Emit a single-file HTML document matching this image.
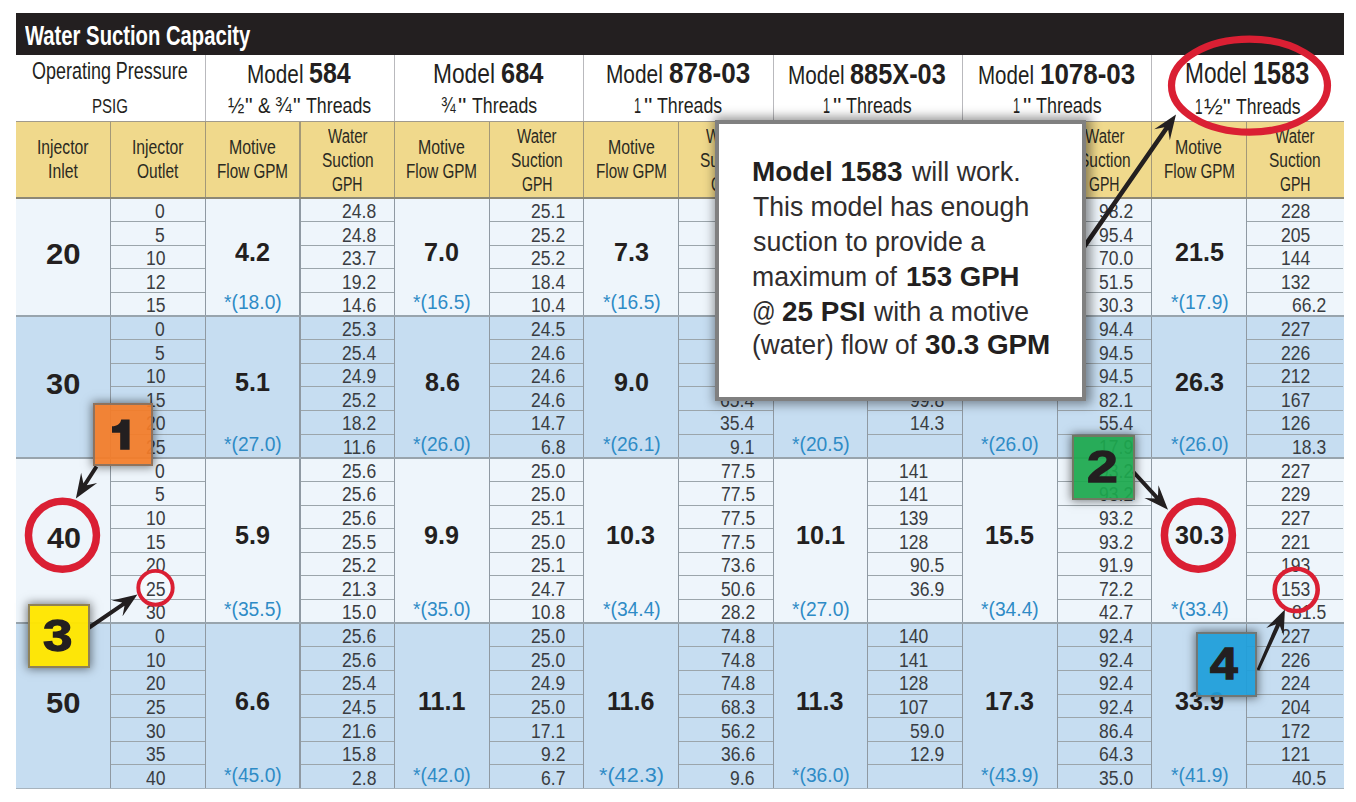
<!DOCTYPE html>
<html><head><meta charset="utf-8"><style>
html,body{margin:0;padding:0;background:#fff;}
body{width:1356px;height:802px;position:relative;overflow:hidden;font-family:"Liberation Sans",sans-serif;}
.t{position:absolute;white-space:nowrap;transform-origin:0 0;}
.r{position:absolute;}
.bx{position:absolute;box-sizing:border-box;border:2px solid rgba(125,112,100,0.85);box-shadow:0 0 9px 1px rgba(0,0,0,0.5);}
.pop{position:absolute;border:4.6px solid #808080;background:#fff;box-shadow:2px 0 10px 3px rgba(0,0,0,0.42);}
</style></head><body>
<div class="r" style="left:16.00px;top:13.00px;width:1328.00px;height:42.00px;background:#231f20;"></div>
<div class="r" style="left:16.00px;top:121.50px;width:1327.50px;height:76.50px;background:#f0d98c;"></div>
<div class="r" style="left:16.00px;top:198.00px;width:1327.50px;height:118.10px;background:#eef5fb;"></div>
<div class="r" style="left:16.00px;top:316.10px;width:1327.50px;height:141.72px;background:#c6ddf1;"></div>
<div class="r" style="left:16.00px;top:457.82px;width:1327.50px;height:165.34px;background:#eef5fb;"></div>
<div class="r" style="left:16.00px;top:623.16px;width:1327.50px;height:165.34px;background:#c6ddf1;"></div>
<div class="r" style="left:204.70px;top:55.00px;width:1.20px;height:66.50px;background:#b9b9bd;"></div>
<div class="r" style="left:394.00px;top:55.00px;width:1.20px;height:66.50px;background:#b9b9bd;"></div>
<div class="r" style="left:583.30px;top:55.00px;width:1.20px;height:66.50px;background:#b9b9bd;"></div>
<div class="r" style="left:772.60px;top:55.00px;width:1.20px;height:66.50px;background:#b9b9bd;"></div>
<div class="r" style="left:961.90px;top:55.00px;width:1.20px;height:66.50px;background:#b9b9bd;"></div>
<div class="r" style="left:1151.20px;top:55.00px;width:1.20px;height:66.50px;background:#b9b9bd;"></div>
<div class="r" style="left:110.05px;top:121.50px;width:1.20px;height:76.50px;background:#a39878;"></div>
<div class="r" style="left:204.70px;top:121.50px;width:1.20px;height:76.50px;background:#a39878;"></div>
<div class="r" style="left:299.35px;top:121.50px;width:1.20px;height:76.50px;background:#a39878;"></div>
<div class="r" style="left:394.00px;top:121.50px;width:1.20px;height:76.50px;background:#a39878;"></div>
<div class="r" style="left:488.65px;top:121.50px;width:1.20px;height:76.50px;background:#a39878;"></div>
<div class="r" style="left:583.30px;top:121.50px;width:1.20px;height:76.50px;background:#a39878;"></div>
<div class="r" style="left:677.95px;top:121.50px;width:1.20px;height:76.50px;background:#a39878;"></div>
<div class="r" style="left:772.60px;top:121.50px;width:1.20px;height:76.50px;background:#a39878;"></div>
<div class="r" style="left:867.25px;top:121.50px;width:1.20px;height:76.50px;background:#a39878;"></div>
<div class="r" style="left:961.90px;top:121.50px;width:1.20px;height:76.50px;background:#a39878;"></div>
<div class="r" style="left:1056.55px;top:121.50px;width:1.20px;height:76.50px;background:#a39878;"></div>
<div class="r" style="left:1151.20px;top:121.50px;width:1.20px;height:76.50px;background:#a39878;"></div>
<div class="r" style="left:1245.85px;top:121.50px;width:1.20px;height:76.50px;background:#a39878;"></div>
<div class="r" style="left:110.05px;top:198.00px;width:1.20px;height:590.50px;background:#8f99a2;"></div>
<div class="r" style="left:204.70px;top:198.00px;width:1.20px;height:590.50px;background:#8f99a2;"></div>
<div class="r" style="left:299.35px;top:198.00px;width:1.20px;height:590.50px;background:#8f99a2;"></div>
<div class="r" style="left:394.00px;top:198.00px;width:1.20px;height:590.50px;background:#8f99a2;"></div>
<div class="r" style="left:488.65px;top:198.00px;width:1.20px;height:590.50px;background:#8f99a2;"></div>
<div class="r" style="left:583.30px;top:198.00px;width:1.20px;height:590.50px;background:#8f99a2;"></div>
<div class="r" style="left:677.95px;top:198.00px;width:1.20px;height:590.50px;background:#8f99a2;"></div>
<div class="r" style="left:772.60px;top:198.00px;width:1.20px;height:590.50px;background:#8f99a2;"></div>
<div class="r" style="left:867.25px;top:198.00px;width:1.20px;height:590.50px;background:#8f99a2;"></div>
<div class="r" style="left:961.90px;top:198.00px;width:1.20px;height:590.50px;background:#8f99a2;"></div>
<div class="r" style="left:1056.55px;top:198.00px;width:1.20px;height:590.50px;background:#8f99a2;"></div>
<div class="r" style="left:1151.20px;top:198.00px;width:1.20px;height:590.50px;background:#8f99a2;"></div>
<div class="r" style="left:1245.85px;top:198.00px;width:1.20px;height:590.50px;background:#8f99a2;"></div>
<div class="r" style="left:16.00px;top:120.80px;width:1327.50px;height:1.40px;background:#a09a8c;"></div>
<div class="r" style="left:16.00px;top:197.30px;width:1327.50px;height:1.40px;background:#8d8875;"></div>
<div class="r" style="left:16.00px;top:315.40px;width:1327.50px;height:1.40px;background:#98a4ad;"></div>
<div class="r" style="left:16.00px;top:457.12px;width:1327.50px;height:1.40px;background:#98a4ad;"></div>
<div class="r" style="left:16.00px;top:622.46px;width:1327.50px;height:1.40px;background:#98a4ad;"></div>
<div class="r" style="left:16.00px;top:787.80px;width:1327.50px;height:1.40px;background:#a7b3bd;"></div>
<div class="r" style="left:111.25px;top:221.12px;width:93.45px;height:1.00px;background:#9ba5ab;"></div>
<div class="r" style="left:300.55px;top:221.12px;width:93.45px;height:1.00px;background:#9ba5ab;"></div>
<div class="r" style="left:489.85px;top:221.12px;width:93.45px;height:1.00px;background:#9ba5ab;"></div>
<div class="r" style="left:679.15px;top:221.12px;width:93.45px;height:1.00px;background:#9ba5ab;"></div>
<div class="r" style="left:868.45px;top:221.12px;width:93.45px;height:1.00px;background:#9ba5ab;"></div>
<div class="r" style="left:1057.75px;top:221.12px;width:93.45px;height:1.00px;background:#9ba5ab;"></div>
<div class="r" style="left:1247.05px;top:221.12px;width:95.85px;height:1.00px;background:#9ba5ab;"></div>
<div class="r" style="left:111.25px;top:244.74px;width:93.45px;height:1.00px;background:#9ba5ab;"></div>
<div class="r" style="left:300.55px;top:244.74px;width:93.45px;height:1.00px;background:#9ba5ab;"></div>
<div class="r" style="left:489.85px;top:244.74px;width:93.45px;height:1.00px;background:#9ba5ab;"></div>
<div class="r" style="left:679.15px;top:244.74px;width:93.45px;height:1.00px;background:#9ba5ab;"></div>
<div class="r" style="left:868.45px;top:244.74px;width:93.45px;height:1.00px;background:#9ba5ab;"></div>
<div class="r" style="left:1057.75px;top:244.74px;width:93.45px;height:1.00px;background:#9ba5ab;"></div>
<div class="r" style="left:1247.05px;top:244.74px;width:95.85px;height:1.00px;background:#9ba5ab;"></div>
<div class="r" style="left:111.25px;top:268.36px;width:93.45px;height:1.00px;background:#9ba5ab;"></div>
<div class="r" style="left:300.55px;top:268.36px;width:93.45px;height:1.00px;background:#9ba5ab;"></div>
<div class="r" style="left:489.85px;top:268.36px;width:93.45px;height:1.00px;background:#9ba5ab;"></div>
<div class="r" style="left:679.15px;top:268.36px;width:93.45px;height:1.00px;background:#9ba5ab;"></div>
<div class="r" style="left:868.45px;top:268.36px;width:93.45px;height:1.00px;background:#9ba5ab;"></div>
<div class="r" style="left:1057.75px;top:268.36px;width:93.45px;height:1.00px;background:#9ba5ab;"></div>
<div class="r" style="left:1247.05px;top:268.36px;width:95.85px;height:1.00px;background:#9ba5ab;"></div>
<div class="r" style="left:111.25px;top:291.98px;width:93.45px;height:1.00px;background:#9ba5ab;"></div>
<div class="r" style="left:300.55px;top:291.98px;width:93.45px;height:1.00px;background:#9ba5ab;"></div>
<div class="r" style="left:489.85px;top:291.98px;width:93.45px;height:1.00px;background:#9ba5ab;"></div>
<div class="r" style="left:679.15px;top:291.98px;width:93.45px;height:1.00px;background:#9ba5ab;"></div>
<div class="r" style="left:868.45px;top:291.98px;width:93.45px;height:1.00px;background:#9ba5ab;"></div>
<div class="r" style="left:1057.75px;top:291.98px;width:93.45px;height:1.00px;background:#9ba5ab;"></div>
<div class="r" style="left:1247.05px;top:291.98px;width:95.85px;height:1.00px;background:#9ba5ab;"></div>
<div class="r" style="left:111.25px;top:339.22px;width:93.45px;height:1.00px;background:#9ba5ab;"></div>
<div class="r" style="left:300.55px;top:339.22px;width:93.45px;height:1.00px;background:#9ba5ab;"></div>
<div class="r" style="left:489.85px;top:339.22px;width:93.45px;height:1.00px;background:#9ba5ab;"></div>
<div class="r" style="left:679.15px;top:339.22px;width:93.45px;height:1.00px;background:#9ba5ab;"></div>
<div class="r" style="left:868.45px;top:339.22px;width:93.45px;height:1.00px;background:#9ba5ab;"></div>
<div class="r" style="left:1057.75px;top:339.22px;width:93.45px;height:1.00px;background:#9ba5ab;"></div>
<div class="r" style="left:1247.05px;top:339.22px;width:95.85px;height:1.00px;background:#9ba5ab;"></div>
<div class="r" style="left:111.25px;top:362.84px;width:93.45px;height:1.00px;background:#9ba5ab;"></div>
<div class="r" style="left:300.55px;top:362.84px;width:93.45px;height:1.00px;background:#9ba5ab;"></div>
<div class="r" style="left:489.85px;top:362.84px;width:93.45px;height:1.00px;background:#9ba5ab;"></div>
<div class="r" style="left:679.15px;top:362.84px;width:93.45px;height:1.00px;background:#9ba5ab;"></div>
<div class="r" style="left:868.45px;top:362.84px;width:93.45px;height:1.00px;background:#9ba5ab;"></div>
<div class="r" style="left:1057.75px;top:362.84px;width:93.45px;height:1.00px;background:#9ba5ab;"></div>
<div class="r" style="left:1247.05px;top:362.84px;width:95.85px;height:1.00px;background:#9ba5ab;"></div>
<div class="r" style="left:111.25px;top:386.46px;width:93.45px;height:1.00px;background:#9ba5ab;"></div>
<div class="r" style="left:300.55px;top:386.46px;width:93.45px;height:1.00px;background:#9ba5ab;"></div>
<div class="r" style="left:489.85px;top:386.46px;width:93.45px;height:1.00px;background:#9ba5ab;"></div>
<div class="r" style="left:679.15px;top:386.46px;width:93.45px;height:1.00px;background:#9ba5ab;"></div>
<div class="r" style="left:868.45px;top:386.46px;width:93.45px;height:1.00px;background:#9ba5ab;"></div>
<div class="r" style="left:1057.75px;top:386.46px;width:93.45px;height:1.00px;background:#9ba5ab;"></div>
<div class="r" style="left:1247.05px;top:386.46px;width:95.85px;height:1.00px;background:#9ba5ab;"></div>
<div class="r" style="left:111.25px;top:410.08px;width:93.45px;height:1.00px;background:#9ba5ab;"></div>
<div class="r" style="left:300.55px;top:410.08px;width:93.45px;height:1.00px;background:#9ba5ab;"></div>
<div class="r" style="left:489.85px;top:410.08px;width:93.45px;height:1.00px;background:#9ba5ab;"></div>
<div class="r" style="left:679.15px;top:410.08px;width:93.45px;height:1.00px;background:#9ba5ab;"></div>
<div class="r" style="left:868.45px;top:410.08px;width:93.45px;height:1.00px;background:#9ba5ab;"></div>
<div class="r" style="left:1057.75px;top:410.08px;width:93.45px;height:1.00px;background:#9ba5ab;"></div>
<div class="r" style="left:1247.05px;top:410.08px;width:95.85px;height:1.00px;background:#9ba5ab;"></div>
<div class="r" style="left:111.25px;top:433.70px;width:93.45px;height:1.00px;background:#9ba5ab;"></div>
<div class="r" style="left:300.55px;top:433.70px;width:93.45px;height:1.00px;background:#9ba5ab;"></div>
<div class="r" style="left:489.85px;top:433.70px;width:93.45px;height:1.00px;background:#9ba5ab;"></div>
<div class="r" style="left:679.15px;top:433.70px;width:93.45px;height:1.00px;background:#9ba5ab;"></div>
<div class="r" style="left:868.45px;top:433.70px;width:93.45px;height:1.00px;background:#9ba5ab;"></div>
<div class="r" style="left:1057.75px;top:433.70px;width:93.45px;height:1.00px;background:#9ba5ab;"></div>
<div class="r" style="left:1247.05px;top:433.70px;width:95.85px;height:1.00px;background:#9ba5ab;"></div>
<div class="r" style="left:111.25px;top:480.94px;width:93.45px;height:1.00px;background:#9ba5ab;"></div>
<div class="r" style="left:300.55px;top:480.94px;width:93.45px;height:1.00px;background:#9ba5ab;"></div>
<div class="r" style="left:489.85px;top:480.94px;width:93.45px;height:1.00px;background:#9ba5ab;"></div>
<div class="r" style="left:679.15px;top:480.94px;width:93.45px;height:1.00px;background:#9ba5ab;"></div>
<div class="r" style="left:868.45px;top:480.94px;width:93.45px;height:1.00px;background:#9ba5ab;"></div>
<div class="r" style="left:1057.75px;top:480.94px;width:93.45px;height:1.00px;background:#9ba5ab;"></div>
<div class="r" style="left:1247.05px;top:480.94px;width:95.85px;height:1.00px;background:#9ba5ab;"></div>
<div class="r" style="left:111.25px;top:504.56px;width:93.45px;height:1.00px;background:#9ba5ab;"></div>
<div class="r" style="left:300.55px;top:504.56px;width:93.45px;height:1.00px;background:#9ba5ab;"></div>
<div class="r" style="left:489.85px;top:504.56px;width:93.45px;height:1.00px;background:#9ba5ab;"></div>
<div class="r" style="left:679.15px;top:504.56px;width:93.45px;height:1.00px;background:#9ba5ab;"></div>
<div class="r" style="left:868.45px;top:504.56px;width:93.45px;height:1.00px;background:#9ba5ab;"></div>
<div class="r" style="left:1057.75px;top:504.56px;width:93.45px;height:1.00px;background:#9ba5ab;"></div>
<div class="r" style="left:1247.05px;top:504.56px;width:95.85px;height:1.00px;background:#9ba5ab;"></div>
<div class="r" style="left:111.25px;top:528.18px;width:93.45px;height:1.00px;background:#9ba5ab;"></div>
<div class="r" style="left:300.55px;top:528.18px;width:93.45px;height:1.00px;background:#9ba5ab;"></div>
<div class="r" style="left:489.85px;top:528.18px;width:93.45px;height:1.00px;background:#9ba5ab;"></div>
<div class="r" style="left:679.15px;top:528.18px;width:93.45px;height:1.00px;background:#9ba5ab;"></div>
<div class="r" style="left:868.45px;top:528.18px;width:93.45px;height:1.00px;background:#9ba5ab;"></div>
<div class="r" style="left:1057.75px;top:528.18px;width:93.45px;height:1.00px;background:#9ba5ab;"></div>
<div class="r" style="left:1247.05px;top:528.18px;width:95.85px;height:1.00px;background:#9ba5ab;"></div>
<div class="r" style="left:111.25px;top:551.80px;width:93.45px;height:1.00px;background:#9ba5ab;"></div>
<div class="r" style="left:300.55px;top:551.80px;width:93.45px;height:1.00px;background:#9ba5ab;"></div>
<div class="r" style="left:489.85px;top:551.80px;width:93.45px;height:1.00px;background:#9ba5ab;"></div>
<div class="r" style="left:679.15px;top:551.80px;width:93.45px;height:1.00px;background:#9ba5ab;"></div>
<div class="r" style="left:868.45px;top:551.80px;width:93.45px;height:1.00px;background:#9ba5ab;"></div>
<div class="r" style="left:1057.75px;top:551.80px;width:93.45px;height:1.00px;background:#9ba5ab;"></div>
<div class="r" style="left:1247.05px;top:551.80px;width:95.85px;height:1.00px;background:#9ba5ab;"></div>
<div class="r" style="left:111.25px;top:575.42px;width:93.45px;height:1.00px;background:#9ba5ab;"></div>
<div class="r" style="left:300.55px;top:575.42px;width:93.45px;height:1.00px;background:#9ba5ab;"></div>
<div class="r" style="left:489.85px;top:575.42px;width:93.45px;height:1.00px;background:#9ba5ab;"></div>
<div class="r" style="left:679.15px;top:575.42px;width:93.45px;height:1.00px;background:#9ba5ab;"></div>
<div class="r" style="left:868.45px;top:575.42px;width:93.45px;height:1.00px;background:#9ba5ab;"></div>
<div class="r" style="left:1057.75px;top:575.42px;width:93.45px;height:1.00px;background:#9ba5ab;"></div>
<div class="r" style="left:1247.05px;top:575.42px;width:95.85px;height:1.00px;background:#9ba5ab;"></div>
<div class="r" style="left:111.25px;top:599.04px;width:93.45px;height:1.00px;background:#9ba5ab;"></div>
<div class="r" style="left:300.55px;top:599.04px;width:93.45px;height:1.00px;background:#9ba5ab;"></div>
<div class="r" style="left:489.85px;top:599.04px;width:93.45px;height:1.00px;background:#9ba5ab;"></div>
<div class="r" style="left:679.15px;top:599.04px;width:93.45px;height:1.00px;background:#9ba5ab;"></div>
<div class="r" style="left:868.45px;top:599.04px;width:93.45px;height:1.00px;background:#9ba5ab;"></div>
<div class="r" style="left:1057.75px;top:599.04px;width:93.45px;height:1.00px;background:#9ba5ab;"></div>
<div class="r" style="left:1247.05px;top:599.04px;width:95.85px;height:1.00px;background:#9ba5ab;"></div>
<div class="r" style="left:111.25px;top:646.28px;width:93.45px;height:1.00px;background:#9ba5ab;"></div>
<div class="r" style="left:300.55px;top:646.28px;width:93.45px;height:1.00px;background:#9ba5ab;"></div>
<div class="r" style="left:489.85px;top:646.28px;width:93.45px;height:1.00px;background:#9ba5ab;"></div>
<div class="r" style="left:679.15px;top:646.28px;width:93.45px;height:1.00px;background:#9ba5ab;"></div>
<div class="r" style="left:868.45px;top:646.28px;width:93.45px;height:1.00px;background:#9ba5ab;"></div>
<div class="r" style="left:1057.75px;top:646.28px;width:93.45px;height:1.00px;background:#9ba5ab;"></div>
<div class="r" style="left:1247.05px;top:646.28px;width:95.85px;height:1.00px;background:#9ba5ab;"></div>
<div class="r" style="left:111.25px;top:669.90px;width:93.45px;height:1.00px;background:#9ba5ab;"></div>
<div class="r" style="left:300.55px;top:669.90px;width:93.45px;height:1.00px;background:#9ba5ab;"></div>
<div class="r" style="left:489.85px;top:669.90px;width:93.45px;height:1.00px;background:#9ba5ab;"></div>
<div class="r" style="left:679.15px;top:669.90px;width:93.45px;height:1.00px;background:#9ba5ab;"></div>
<div class="r" style="left:868.45px;top:669.90px;width:93.45px;height:1.00px;background:#9ba5ab;"></div>
<div class="r" style="left:1057.75px;top:669.90px;width:93.45px;height:1.00px;background:#9ba5ab;"></div>
<div class="r" style="left:1247.05px;top:669.90px;width:95.85px;height:1.00px;background:#9ba5ab;"></div>
<div class="r" style="left:111.25px;top:693.52px;width:93.45px;height:1.00px;background:#9ba5ab;"></div>
<div class="r" style="left:300.55px;top:693.52px;width:93.45px;height:1.00px;background:#9ba5ab;"></div>
<div class="r" style="left:489.85px;top:693.52px;width:93.45px;height:1.00px;background:#9ba5ab;"></div>
<div class="r" style="left:679.15px;top:693.52px;width:93.45px;height:1.00px;background:#9ba5ab;"></div>
<div class="r" style="left:868.45px;top:693.52px;width:93.45px;height:1.00px;background:#9ba5ab;"></div>
<div class="r" style="left:1057.75px;top:693.52px;width:93.45px;height:1.00px;background:#9ba5ab;"></div>
<div class="r" style="left:1247.05px;top:693.52px;width:95.85px;height:1.00px;background:#9ba5ab;"></div>
<div class="r" style="left:111.25px;top:717.14px;width:93.45px;height:1.00px;background:#9ba5ab;"></div>
<div class="r" style="left:300.55px;top:717.14px;width:93.45px;height:1.00px;background:#9ba5ab;"></div>
<div class="r" style="left:489.85px;top:717.14px;width:93.45px;height:1.00px;background:#9ba5ab;"></div>
<div class="r" style="left:679.15px;top:717.14px;width:93.45px;height:1.00px;background:#9ba5ab;"></div>
<div class="r" style="left:868.45px;top:717.14px;width:93.45px;height:1.00px;background:#9ba5ab;"></div>
<div class="r" style="left:1057.75px;top:717.14px;width:93.45px;height:1.00px;background:#9ba5ab;"></div>
<div class="r" style="left:1247.05px;top:717.14px;width:95.85px;height:1.00px;background:#9ba5ab;"></div>
<div class="r" style="left:111.25px;top:740.76px;width:93.45px;height:1.00px;background:#9ba5ab;"></div>
<div class="r" style="left:300.55px;top:740.76px;width:93.45px;height:1.00px;background:#9ba5ab;"></div>
<div class="r" style="left:489.85px;top:740.76px;width:93.45px;height:1.00px;background:#9ba5ab;"></div>
<div class="r" style="left:679.15px;top:740.76px;width:93.45px;height:1.00px;background:#9ba5ab;"></div>
<div class="r" style="left:868.45px;top:740.76px;width:93.45px;height:1.00px;background:#9ba5ab;"></div>
<div class="r" style="left:1057.75px;top:740.76px;width:93.45px;height:1.00px;background:#9ba5ab;"></div>
<div class="r" style="left:1247.05px;top:740.76px;width:95.85px;height:1.00px;background:#9ba5ab;"></div>
<div class="r" style="left:111.25px;top:764.38px;width:93.45px;height:1.00px;background:#9ba5ab;"></div>
<div class="r" style="left:300.55px;top:764.38px;width:93.45px;height:1.00px;background:#9ba5ab;"></div>
<div class="r" style="left:489.85px;top:764.38px;width:93.45px;height:1.00px;background:#9ba5ab;"></div>
<div class="r" style="left:679.15px;top:764.38px;width:93.45px;height:1.00px;background:#9ba5ab;"></div>
<div class="r" style="left:868.45px;top:764.38px;width:93.45px;height:1.00px;background:#9ba5ab;"></div>
<div class="r" style="left:1057.75px;top:764.38px;width:93.45px;height:1.00px;background:#9ba5ab;"></div>
<div class="r" style="left:1247.05px;top:764.38px;width:95.85px;height:1.00px;background:#9ba5ab;"></div>
<div class="t" style="left:25.40px;top:22.19px;font-size:27.18px;line-height:27.18px;font-weight:bold;color:#ffffff;transform:scaleX(0.7451);">Water Suction Capacity</div>
<div class="t" style="left:32.49px;top:59.47px;font-size:24.13px;line-height:24.13px;color:#231f20;transform:scaleX(0.7444);">Operating Pressure</div>
<div class="t" style="left:92.40px;top:95.26px;font-size:21.08px;line-height:21.08px;color:#231f20;transform:scaleX(0.7133);">PSIG</div>
<div class="t" style="left:246.64px;top:62.26px;font-size:25.44px;line-height:25.44px;color:#231f20;transform:scaleX(0.8153);">Model</div>
<div class="t" style="left:309.45px;top:58.33px;font-size:30.09px;line-height:30.09px;font-weight:bold;color:#231f20;transform:scaleX(0.8299);">584</div>
<div class="t" style="left:228.31px;top:96.01px;font-size:21.37px;line-height:21.37px;color:#231f20;transform:scaleX(0.9182);">½</div>
<div class="t" style="left:244.84px;top:96.01px;font-size:21.37px;line-height:21.37px;color:#231f20;transform:scaleX(1.0041);">"</div>
<div class="t" style="left:258.35px;top:96.01px;font-size:21.37px;line-height:21.37px;color:#231f20;transform:scaleX(0.8752);">&amp;</div>
<div class="t" style="left:275.30px;top:96.01px;font-size:21.37px;line-height:21.37px;color:#231f20;transform:scaleX(0.9360);">¾</div>
<div class="t" style="left:292.84px;top:96.01px;font-size:21.37px;line-height:21.37px;color:#231f20;transform:scaleX(1.0041);">"</div>
<div class="t" style="left:305.74px;top:96.01px;font-size:21.37px;line-height:21.37px;color:#231f20;transform:scaleX(0.8325);">Threads</div>
<div class="t" style="left:433.28px;top:60.05px;font-size:28.05px;line-height:28.05px;color:#231f20;transform:scaleX(0.8112);">Model</div>
<div class="t" style="left:500.51px;top:58.33px;font-size:30.09px;line-height:30.09px;font-weight:bold;color:#231f20;transform:scaleX(0.8447);">684</div>
<div class="t" style="left:441.19px;top:96.01px;font-size:21.37px;line-height:21.37px;color:#231f20;transform:scaleX(0.8205);">¾</div>
<div class="t" style="left:457.95px;top:96.01px;font-size:21.37px;line-height:21.37px;color:#231f20;transform:scaleX(1.1062);">"</div>
<div class="t" style="left:471.54px;top:96.01px;font-size:21.37px;line-height:21.37px;color:#231f20;transform:scaleX(0.8325);">Threads</div>
<div class="t" style="left:606.03px;top:62.26px;font-size:25.44px;line-height:25.44px;color:#231f20;transform:scaleX(0.8199);">Model</div>
<div class="t" style="left:668.62px;top:58.33px;font-size:30.09px;line-height:30.09px;font-weight:bold;color:#231f20;transform:scaleX(0.8663);">878-03</div>
<div class="t" style="left:634.25px;top:96.01px;font-size:21.37px;line-height:21.37px;color:#231f20;transform:scaleX(0.5917);">1</div>
<div class="t" style="left:644.45px;top:96.01px;font-size:21.37px;line-height:21.37px;color:#231f20;transform:scaleX(1.1062);">"</div>
<div class="t" style="left:657.44px;top:96.01px;font-size:21.37px;line-height:21.37px;color:#231f20;transform:scaleX(0.8325);">Threads</div>
<div class="t" style="left:788.14px;top:62.51px;font-size:25.15px;line-height:25.15px;color:#231f20;transform:scaleX(0.8263);">Model</div>
<div class="t" style="left:850.04px;top:58.57px;font-size:29.80px;line-height:29.80px;font-weight:bold;color:#231f20;transform:scaleX(0.8501);">885X-03</div>
<div class="t" style="left:823.25px;top:96.01px;font-size:21.37px;line-height:21.37px;color:#231f20;transform:scaleX(0.5917);">1</div>
<div class="t" style="left:833.45px;top:96.01px;font-size:21.37px;line-height:21.37px;color:#231f20;transform:scaleX(1.1062);">"</div>
<div class="t" style="left:846.44px;top:96.01px;font-size:21.37px;line-height:21.37px;color:#231f20;transform:scaleX(0.8389);">Threads</div>
<div class="t" style="left:978.16px;top:62.51px;font-size:25.15px;line-height:25.15px;color:#231f20;transform:scaleX(0.8170);">Model</div>
<div class="t" style="left:1039.94px;top:58.57px;font-size:29.80px;line-height:29.80px;font-weight:bold;color:#231f20;transform:scaleX(0.8702);">1078-03</div>
<div class="t" style="left:1012.65px;top:96.01px;font-size:21.37px;line-height:21.37px;color:#231f20;transform:scaleX(0.5917);">1</div>
<div class="t" style="left:1022.85px;top:96.01px;font-size:21.37px;line-height:21.37px;color:#231f20;transform:scaleX(1.1062);">"</div>
<div class="t" style="left:1035.84px;top:96.01px;font-size:21.37px;line-height:21.37px;color:#231f20;transform:scaleX(0.8389);">Threads</div>
<div class="t" style="left:1184.69px;top:59.43px;font-size:28.78px;line-height:28.78px;color:#231f20;transform:scaleX(0.7880);">Model</div>
<div class="t" style="left:1252.88px;top:57.96px;font-size:30.52px;line-height:30.52px;font-weight:bold;color:#231f20;transform:scaleX(0.8290);">1583</div>
<div class="t" style="left:1195.48px;top:95.64px;font-size:21.80px;line-height:21.80px;color:#231f20;transform:scaleX(0.6221);">1</div>
<div class="t" style="left:1203.64px;top:95.64px;font-size:21.80px;line-height:21.80px;color:#231f20;transform:scaleX(1.0342);">½</div>
<div class="t" style="left:1222.84px;top:95.64px;font-size:21.80px;line-height:21.80px;color:#231f20;transform:scaleX(0.9840);">"</div>
<div class="t" style="left:1235.75px;top:95.64px;font-size:21.80px;line-height:21.80px;color:#231f20;transform:scaleX(0.8082);">Threads</div>
<div class="t" style="left:36.96px;top:137.69px;font-size:19.62px;line-height:19.62px;color:#2b2a22;transform:scaleX(0.8022);">Injector</div>
<div class="t" style="left:47.75px;top:161.89px;font-size:19.62px;line-height:19.62px;color:#2b2a22;transform:scaleX(0.8057);">Inlet</div>
<div class="t" style="left:131.61px;top:137.69px;font-size:19.62px;line-height:19.62px;color:#2b2a22;transform:scaleX(0.8022);">Injector</div>
<div class="t" style="left:136.98px;top:161.89px;font-size:19.62px;line-height:19.62px;color:#2b2a22;transform:scaleX(0.7912);">Outlet</div>
<div class="t" style="left:228.90px;top:137.96px;font-size:19.77px;line-height:19.77px;color:#2b2a22;transform:scaleX(0.8055);">Motive</div>
<div class="t" style="left:217.11px;top:161.76px;font-size:19.77px;line-height:19.77px;color:#2b2a22;transform:scaleX(0.7703);">Flow GPM</div>
<div class="t" style="left:327.60px;top:127.13px;font-size:19.33px;line-height:19.33px;color:#2b2a22;transform:scaleX(0.7784);">Water</div>
<div class="t" style="left:321.58px;top:150.93px;font-size:19.33px;line-height:19.33px;color:#2b2a22;transform:scaleX(0.8020);">Suction</div>
<div class="t" style="left:332.22px;top:175.23px;font-size:19.33px;line-height:19.33px;color:#2b2a22;transform:scaleX(0.7295);">GPH</div>
<div class="t" style="left:418.20px;top:137.96px;font-size:19.77px;line-height:19.77px;color:#2b2a22;transform:scaleX(0.8055);">Motive</div>
<div class="t" style="left:406.41px;top:161.76px;font-size:19.77px;line-height:19.77px;color:#2b2a22;transform:scaleX(0.7703);">Flow GPM</div>
<div class="t" style="left:516.90px;top:127.13px;font-size:19.33px;line-height:19.33px;color:#2b2a22;transform:scaleX(0.7784);">Water</div>
<div class="t" style="left:510.88px;top:150.93px;font-size:19.33px;line-height:19.33px;color:#2b2a22;transform:scaleX(0.8020);">Suction</div>
<div class="t" style="left:521.52px;top:175.23px;font-size:19.33px;line-height:19.33px;color:#2b2a22;transform:scaleX(0.7295);">GPH</div>
<div class="t" style="left:607.50px;top:137.96px;font-size:19.77px;line-height:19.77px;color:#2b2a22;transform:scaleX(0.8055);">Motive</div>
<div class="t" style="left:595.71px;top:161.76px;font-size:19.77px;line-height:19.77px;color:#2b2a22;transform:scaleX(0.7703);">Flow GPM</div>
<div class="t" style="left:706.20px;top:127.13px;font-size:19.33px;line-height:19.33px;color:#2b2a22;transform:scaleX(0.7784);">Water</div>
<div class="t" style="left:700.18px;top:150.93px;font-size:19.33px;line-height:19.33px;color:#2b2a22;transform:scaleX(0.8020);">Suction</div>
<div class="t" style="left:710.82px;top:175.23px;font-size:19.33px;line-height:19.33px;color:#2b2a22;transform:scaleX(0.7295);">GPH</div>
<div class="t" style="left:796.80px;top:137.96px;font-size:19.77px;line-height:19.77px;color:#2b2a22;transform:scaleX(0.8055);">Motive</div>
<div class="t" style="left:785.01px;top:161.76px;font-size:19.77px;line-height:19.77px;color:#2b2a22;transform:scaleX(0.7703);">Flow GPM</div>
<div class="t" style="left:895.50px;top:127.13px;font-size:19.33px;line-height:19.33px;color:#2b2a22;transform:scaleX(0.7784);">Water</div>
<div class="t" style="left:889.48px;top:150.93px;font-size:19.33px;line-height:19.33px;color:#2b2a22;transform:scaleX(0.8020);">Suction</div>
<div class="t" style="left:900.12px;top:175.23px;font-size:19.33px;line-height:19.33px;color:#2b2a22;transform:scaleX(0.7295);">GPH</div>
<div class="t" style="left:986.10px;top:137.96px;font-size:19.77px;line-height:19.77px;color:#2b2a22;transform:scaleX(0.8055);">Motive</div>
<div class="t" style="left:974.31px;top:161.76px;font-size:19.77px;line-height:19.77px;color:#2b2a22;transform:scaleX(0.7703);">Flow GPM</div>
<div class="t" style="left:1084.80px;top:127.13px;font-size:19.33px;line-height:19.33px;color:#2b2a22;transform:scaleX(0.7784);">Water</div>
<div class="t" style="left:1078.78px;top:150.93px;font-size:19.33px;line-height:19.33px;color:#2b2a22;transform:scaleX(0.8020);">Suction</div>
<div class="t" style="left:1089.42px;top:175.23px;font-size:19.33px;line-height:19.33px;color:#2b2a22;transform:scaleX(0.7295);">GPH</div>
<div class="t" style="left:1175.40px;top:137.96px;font-size:19.77px;line-height:19.77px;color:#2b2a22;transform:scaleX(0.8055);">Motive</div>
<div class="t" style="left:1163.61px;top:161.76px;font-size:19.77px;line-height:19.77px;color:#2b2a22;transform:scaleX(0.7703);">Flow GPM</div>
<div class="t" style="left:1275.30px;top:127.13px;font-size:19.33px;line-height:19.33px;color:#2b2a22;transform:scaleX(0.7784);">Water</div>
<div class="t" style="left:1269.28px;top:150.93px;font-size:19.33px;line-height:19.33px;color:#2b2a22;transform:scaleX(0.8020);">Suction</div>
<div class="t" style="left:1279.92px;top:175.23px;font-size:19.33px;line-height:19.33px;color:#2b2a22;transform:scaleX(0.7295);">GPH</div>
<div class="t" style="left:46.14px;top:239.12px;font-size:29.80px;line-height:29.80px;font-weight:bold;color:#231f20;transform:scaleX(1.0440);">20</div>
<div class="t" style="left:155.38px;top:200.88px;font-size:20.00px;line-height:20.00px;color:#3a3d42;transform:scaleX(0.8770);">0</div>
<div class="t" style="left:155.47px;top:224.50px;font-size:20.00px;line-height:20.00px;color:#3a3d42;transform:scaleX(0.8770);">5</div>
<div class="t" style="left:145.64px;top:248.12px;font-size:20.00px;line-height:20.00px;color:#3a3d42;transform:scaleX(0.8770);">10</div>
<div class="t" style="left:145.91px;top:271.74px;font-size:20.00px;line-height:20.00px;color:#3a3d42;transform:scaleX(0.8770);">12</div>
<div class="t" style="left:145.73px;top:295.36px;font-size:20.00px;line-height:20.00px;color:#3a3d42;transform:scaleX(0.8770);">15</div>
<div class="t" style="left:235.46px;top:239.77px;font-size:24.90px;line-height:24.90px;font-weight:bold;color:#231f20;transform:scaleX(1.0100);">4.2</div>
<div class="t" style="left:224.19px;top:293.11px;font-size:19.70px;line-height:19.70px;color:#2e8bc6;transform:scaleX(0.9770);">*(18.0)</div>
<div class="t" style="left:341.99px;top:200.88px;font-size:20.00px;line-height:20.00px;color:#3a3d42;transform:scaleX(0.8770);">24.8</div>
<div class="t" style="left:341.99px;top:224.50px;font-size:20.00px;line-height:20.00px;color:#3a3d42;transform:scaleX(0.8770);">24.8</div>
<div class="t" style="left:342.16px;top:248.12px;font-size:20.00px;line-height:20.00px;color:#3a3d42;transform:scaleX(0.8770);">23.7</div>
<div class="t" style="left:342.16px;top:271.74px;font-size:20.00px;line-height:20.00px;color:#3a3d42;transform:scaleX(0.8770);">19.2</div>
<div class="t" style="left:341.99px;top:295.36px;font-size:20.00px;line-height:20.00px;color:#3a3d42;transform:scaleX(0.8770);">14.6</div>
<div class="t" style="left:424.45px;top:239.77px;font-size:24.90px;line-height:24.90px;font-weight:bold;color:#231f20;transform:scaleX(1.0100);">7.0</div>
<div class="t" style="left:413.49px;top:293.11px;font-size:19.70px;line-height:19.70px;color:#2e8bc6;transform:scaleX(0.9770);">*(16.5)</div>
<div class="t" style="left:531.37px;top:200.88px;font-size:20.00px;line-height:20.00px;color:#3a3d42;transform:scaleX(0.8770);">25.1</div>
<div class="t" style="left:531.46px;top:224.50px;font-size:20.00px;line-height:20.00px;color:#3a3d42;transform:scaleX(0.8770);">25.2</div>
<div class="t" style="left:531.46px;top:248.12px;font-size:20.00px;line-height:20.00px;color:#3a3d42;transform:scaleX(0.8770);">25.2</div>
<div class="t" style="left:531.11px;top:271.74px;font-size:20.00px;line-height:20.00px;color:#3a3d42;transform:scaleX(0.8770);">18.4</div>
<div class="t" style="left:531.11px;top:295.36px;font-size:20.00px;line-height:20.00px;color:#3a3d42;transform:scaleX(0.8770);">10.4</div>
<div class="t" style="left:613.68px;top:239.77px;font-size:24.90px;line-height:24.90px;font-weight:bold;color:#231f20;transform:scaleX(1.0100);">7.3</div>
<div class="t" style="left:602.79px;top:293.11px;font-size:19.70px;line-height:19.70px;color:#2e8bc6;transform:scaleX(0.9770);">*(16.5)</div>
<div class="t" style="left:720.50px;top:200.88px;font-size:20.00px;line-height:20.00px;color:#3a3d42;transform:scaleX(0.8770);">78.0</div>
<div class="t" style="left:720.50px;top:224.50px;font-size:20.00px;line-height:20.00px;color:#3a3d42;transform:scaleX(0.8770);">78.0</div>
<div class="t" style="left:720.67px;top:248.12px;font-size:20.00px;line-height:20.00px;color:#3a3d42;transform:scaleX(0.8770);">77.9</div>
<div class="t" style="left:720.41px;top:271.74px;font-size:20.00px;line-height:20.00px;color:#3a3d42;transform:scaleX(0.8770);">65.4</div>
<div class="t" style="left:720.76px;top:295.36px;font-size:20.00px;line-height:20.00px;color:#3a3d42;transform:scaleX(0.8770);">38.2</div>
<div class="t" style="left:802.98px;top:239.77px;font-size:24.90px;line-height:24.90px;font-weight:bold;color:#231f20;transform:scaleX(1.0100);">8.1</div>
<div class="t" style="left:792.09px;top:293.11px;font-size:19.70px;line-height:19.70px;color:#2e8bc6;transform:scaleX(0.9770);">*(15.0)</div>
<div class="t" style="left:899.09px;top:200.88px;font-size:20.00px;line-height:20.00px;color:#3a3d42;transform:scaleX(0.8770);">141</div>
<div class="t" style="left:898.91px;top:224.50px;font-size:20.00px;line-height:20.00px;color:#3a3d42;transform:scaleX(0.8770);">140</div>
<div class="t" style="left:899.00px;top:248.12px;font-size:20.00px;line-height:20.00px;color:#3a3d42;transform:scaleX(0.8770);">128</div>
<div class="t" style="left:899.09px;top:271.74px;font-size:20.00px;line-height:20.00px;color:#3a3d42;transform:scaleX(0.8770);">109</div>
<div class="t" style="left:910.06px;top:295.36px;font-size:20.00px;line-height:20.00px;color:#3a3d42;transform:scaleX(0.8770);">61.2</div>
<div class="t" style="left:985.12px;top:239.77px;font-size:24.90px;line-height:24.90px;font-weight:bold;color:#231f20;transform:scaleX(1.0100);">13.2</div>
<div class="t" style="left:981.39px;top:293.11px;font-size:19.70px;line-height:19.70px;color:#2e8bc6;transform:scaleX(0.9770);">*(16.8)</div>
<div class="t" style="left:1099.36px;top:200.88px;font-size:20.00px;line-height:20.00px;color:#3a3d42;transform:scaleX(0.8770);">98.2</div>
<div class="t" style="left:1099.01px;top:224.50px;font-size:20.00px;line-height:20.00px;color:#3a3d42;transform:scaleX(0.8770);">95.4</div>
<div class="t" style="left:1099.10px;top:248.12px;font-size:20.00px;line-height:20.00px;color:#3a3d42;transform:scaleX(0.8770);">70.0</div>
<div class="t" style="left:1099.19px;top:271.74px;font-size:20.00px;line-height:20.00px;color:#3a3d42;transform:scaleX(0.8770);">51.5</div>
<div class="t" style="left:1099.19px;top:295.36px;font-size:20.00px;line-height:20.00px;color:#3a3d42;transform:scaleX(0.8770);">30.3</div>
<div class="t" style="left:1174.54px;top:239.77px;font-size:24.90px;line-height:24.90px;font-weight:bold;color:#231f20;transform:scaleX(1.0100);">21.5</div>
<div class="t" style="left:1170.69px;top:293.11px;font-size:19.70px;line-height:19.70px;color:#2e8bc6;transform:scaleX(0.9770);">*(17.9)</div>
<div class="t" style="left:1280.70px;top:200.88px;font-size:20.00px;line-height:20.00px;color:#3a3d42;transform:scaleX(0.8770);">228</div>
<div class="t" style="left:1280.70px;top:224.50px;font-size:20.00px;line-height:20.00px;color:#3a3d42;transform:scaleX(0.8770);">205</div>
<div class="t" style="left:1280.52px;top:248.12px;font-size:20.00px;line-height:20.00px;color:#3a3d42;transform:scaleX(0.8770);">144</div>
<div class="t" style="left:1280.87px;top:271.74px;font-size:20.00px;line-height:20.00px;color:#3a3d42;transform:scaleX(0.8770);">132</div>
<div class="t" style="left:1291.76px;top:295.36px;font-size:20.00px;line-height:20.00px;color:#3a3d42;transform:scaleX(0.8770);">66.2</div>
<div class="t" style="left:46.45px;top:369.03px;font-size:29.80px;line-height:29.80px;font-weight:bold;color:#231f20;transform:scaleX(1.0340);">30</div>
<div class="t" style="left:155.38px;top:318.98px;font-size:20.00px;line-height:20.00px;color:#3a3d42;transform:scaleX(0.8770);">0</div>
<div class="t" style="left:155.47px;top:342.60px;font-size:20.00px;line-height:20.00px;color:#3a3d42;transform:scaleX(0.8770);">5</div>
<div class="t" style="left:145.64px;top:366.22px;font-size:20.00px;line-height:20.00px;color:#3a3d42;transform:scaleX(0.8770);">10</div>
<div class="t" style="left:145.73px;top:389.84px;font-size:20.00px;line-height:20.00px;color:#3a3d42;transform:scaleX(0.8770);">15</div>
<div class="t" style="left:145.64px;top:413.46px;font-size:20.00px;line-height:20.00px;color:#3a3d42;transform:scaleX(0.8770);">20</div>
<div class="t" style="left:145.73px;top:437.08px;font-size:20.00px;line-height:20.00px;color:#3a3d42;transform:scaleX(0.8770);">25</div>
<div class="t" style="left:235.08px;top:369.68px;font-size:24.90px;line-height:24.90px;font-weight:bold;color:#231f20;transform:scaleX(1.0100);">5.1</div>
<div class="t" style="left:224.19px;top:434.83px;font-size:19.70px;line-height:19.70px;color:#2e8bc6;transform:scaleX(0.9770);">*(27.0)</div>
<div class="t" style="left:341.99px;top:318.98px;font-size:20.00px;line-height:20.00px;color:#3a3d42;transform:scaleX(0.8770);">25.3</div>
<div class="t" style="left:341.81px;top:342.60px;font-size:20.00px;line-height:20.00px;color:#3a3d42;transform:scaleX(0.8770);">25.4</div>
<div class="t" style="left:342.07px;top:366.22px;font-size:20.00px;line-height:20.00px;color:#3a3d42;transform:scaleX(0.8770);">24.9</div>
<div class="t" style="left:342.16px;top:389.84px;font-size:20.00px;line-height:20.00px;color:#3a3d42;transform:scaleX(0.8770);">25.2</div>
<div class="t" style="left:342.16px;top:413.46px;font-size:20.00px;line-height:20.00px;color:#3a3d42;transform:scaleX(0.8770);">18.2</div>
<div class="t" style="left:343.30px;top:437.08px;font-size:20.00px;line-height:20.00px;color:#3a3d42;transform:scaleX(0.8770);">11.6</div>
<div class="t" style="left:424.51px;top:369.68px;font-size:24.90px;line-height:24.90px;font-weight:bold;color:#231f20;transform:scaleX(1.0100);">8.6</div>
<div class="t" style="left:413.49px;top:434.83px;font-size:19.70px;line-height:19.70px;color:#2e8bc6;transform:scaleX(0.9770);">*(26.0)</div>
<div class="t" style="left:531.29px;top:318.98px;font-size:20.00px;line-height:20.00px;color:#3a3d42;transform:scaleX(0.8770);">24.5</div>
<div class="t" style="left:531.29px;top:342.60px;font-size:20.00px;line-height:20.00px;color:#3a3d42;transform:scaleX(0.8770);">24.6</div>
<div class="t" style="left:531.29px;top:366.22px;font-size:20.00px;line-height:20.00px;color:#3a3d42;transform:scaleX(0.8770);">24.6</div>
<div class="t" style="left:531.29px;top:389.84px;font-size:20.00px;line-height:20.00px;color:#3a3d42;transform:scaleX(0.8770);">24.6</div>
<div class="t" style="left:531.46px;top:413.46px;font-size:20.00px;line-height:20.00px;color:#3a3d42;transform:scaleX(0.8770);">14.7</div>
<div class="t" style="left:541.02px;top:437.08px;font-size:20.00px;line-height:20.00px;color:#3a3d42;transform:scaleX(0.8770);">6.8</div>
<div class="t" style="left:613.81px;top:369.68px;font-size:24.90px;line-height:24.90px;font-weight:bold;color:#231f20;transform:scaleX(1.0100);">9.0</div>
<div class="t" style="left:602.79px;top:434.83px;font-size:19.70px;line-height:19.70px;color:#2e8bc6;transform:scaleX(0.9770);">*(26.1)</div>
<div class="t" style="left:720.59px;top:318.98px;font-size:20.00px;line-height:20.00px;color:#3a3d42;transform:scaleX(0.8770);">77.6</div>
<div class="t" style="left:720.59px;top:342.60px;font-size:20.00px;line-height:20.00px;color:#3a3d42;transform:scaleX(0.8770);">77.6</div>
<div class="t" style="left:720.59px;top:366.22px;font-size:20.00px;line-height:20.00px;color:#3a3d42;transform:scaleX(0.8770);">77.6</div>
<div class="t" style="left:720.41px;top:389.84px;font-size:20.00px;line-height:20.00px;color:#3a3d42;transform:scaleX(0.8770);">65.4</div>
<div class="t" style="left:720.41px;top:413.46px;font-size:20.00px;line-height:20.00px;color:#3a3d42;transform:scaleX(0.8770);">35.4</div>
<div class="t" style="left:730.41px;top:437.08px;font-size:20.00px;line-height:20.00px;color:#3a3d42;transform:scaleX(0.8770);">9.1</div>
<div class="t" style="left:802.92px;top:369.68px;font-size:24.90px;line-height:24.90px;font-weight:bold;color:#231f20;transform:scaleX(1.0100);">9.1</div>
<div class="t" style="left:792.09px;top:434.83px;font-size:19.70px;line-height:19.70px;color:#2e8bc6;transform:scaleX(0.9770);">*(20.5)</div>
<div class="t" style="left:899.09px;top:318.98px;font-size:20.00px;line-height:20.00px;color:#3a3d42;transform:scaleX(0.8770);">141</div>
<div class="t" style="left:899.09px;top:342.60px;font-size:20.00px;line-height:20.00px;color:#3a3d42;transform:scaleX(0.8770);">141</div>
<div class="t" style="left:899.00px;top:366.22px;font-size:20.00px;line-height:20.00px;color:#3a3d42;transform:scaleX(0.8770);">138</div>
<div class="t" style="left:909.89px;top:389.84px;font-size:20.00px;line-height:20.00px;color:#3a3d42;transform:scaleX(0.8770);">99.8</div>
<div class="t" style="left:909.89px;top:413.46px;font-size:20.00px;line-height:20.00px;color:#3a3d42;transform:scaleX(0.8770);">14.3</div>
<div class="t" style="left:985.12px;top:369.68px;font-size:24.90px;line-height:24.90px;font-weight:bold;color:#231f20;transform:scaleX(1.0100);">14.2</div>
<div class="t" style="left:981.39px;top:434.83px;font-size:19.70px;line-height:19.70px;color:#2e8bc6;transform:scaleX(0.9770);">*(26.0)</div>
<div class="t" style="left:1099.01px;top:318.98px;font-size:20.00px;line-height:20.00px;color:#3a3d42;transform:scaleX(0.8770);">94.4</div>
<div class="t" style="left:1099.19px;top:342.60px;font-size:20.00px;line-height:20.00px;color:#3a3d42;transform:scaleX(0.8770);">94.5</div>
<div class="t" style="left:1099.19px;top:366.22px;font-size:20.00px;line-height:20.00px;color:#3a3d42;transform:scaleX(0.8770);">94.5</div>
<div class="t" style="left:1099.27px;top:389.84px;font-size:20.00px;line-height:20.00px;color:#3a3d42;transform:scaleX(0.8770);">82.1</div>
<div class="t" style="left:1099.01px;top:413.46px;font-size:20.00px;line-height:20.00px;color:#3a3d42;transform:scaleX(0.8770);">55.4</div>
<div class="t" style="left:1099.27px;top:437.08px;font-size:20.00px;line-height:20.00px;color:#3a3d42;transform:scaleX(0.8770);">17.9</div>
<div class="t" style="left:1174.67px;top:369.68px;font-size:24.90px;line-height:24.90px;font-weight:bold;color:#231f20;transform:scaleX(1.0100);">26.3</div>
<div class="t" style="left:1170.69px;top:434.83px;font-size:19.70px;line-height:19.70px;color:#2e8bc6;transform:scaleX(0.9770);">*(26.0)</div>
<div class="t" style="left:1280.87px;top:318.98px;font-size:20.00px;line-height:20.00px;color:#3a3d42;transform:scaleX(0.8770);">227</div>
<div class="t" style="left:1280.70px;top:342.60px;font-size:20.00px;line-height:20.00px;color:#3a3d42;transform:scaleX(0.8770);">226</div>
<div class="t" style="left:1280.87px;top:366.22px;font-size:20.00px;line-height:20.00px;color:#3a3d42;transform:scaleX(0.8770);">212</div>
<div class="t" style="left:1280.87px;top:389.84px;font-size:20.00px;line-height:20.00px;color:#3a3d42;transform:scaleX(0.8770);">167</div>
<div class="t" style="left:1280.70px;top:413.46px;font-size:20.00px;line-height:20.00px;color:#3a3d42;transform:scaleX(0.8770);">126</div>
<div class="t" style="left:1291.59px;top:437.08px;font-size:20.00px;line-height:20.00px;color:#3a3d42;transform:scaleX(0.8770);">18.3</div>
<div class="t" style="left:46.77px;top:522.56px;font-size:29.80px;line-height:29.80px;font-weight:bold;color:#231f20;transform:scaleX(1.0242);">40</div>
<div class="t" style="left:155.38px;top:460.70px;font-size:20.00px;line-height:20.00px;color:#3a3d42;transform:scaleX(0.8770);">0</div>
<div class="t" style="left:155.47px;top:484.32px;font-size:20.00px;line-height:20.00px;color:#3a3d42;transform:scaleX(0.8770);">5</div>
<div class="t" style="left:145.64px;top:507.94px;font-size:20.00px;line-height:20.00px;color:#3a3d42;transform:scaleX(0.8770);">10</div>
<div class="t" style="left:145.73px;top:531.56px;font-size:20.00px;line-height:20.00px;color:#3a3d42;transform:scaleX(0.8770);">15</div>
<div class="t" style="left:145.64px;top:555.18px;font-size:20.00px;line-height:20.00px;color:#3a3d42;transform:scaleX(0.8770);">20</div>
<div class="t" style="left:145.73px;top:578.80px;font-size:20.00px;line-height:20.00px;color:#3a3d42;transform:scaleX(0.8770);">25</div>
<div class="t" style="left:145.64px;top:602.42px;font-size:20.00px;line-height:20.00px;color:#3a3d42;transform:scaleX(0.8770);">30</div>
<div class="t" style="left:235.21px;top:523.21px;font-size:24.90px;line-height:24.90px;font-weight:bold;color:#231f20;transform:scaleX(1.0100);">5.9</div>
<div class="t" style="left:224.19px;top:600.17px;font-size:19.70px;line-height:19.70px;color:#2e8bc6;transform:scaleX(0.9770);">*(35.5)</div>
<div class="t" style="left:341.99px;top:460.70px;font-size:20.00px;line-height:20.00px;color:#3a3d42;transform:scaleX(0.8770);">25.6</div>
<div class="t" style="left:341.99px;top:484.32px;font-size:20.00px;line-height:20.00px;color:#3a3d42;transform:scaleX(0.8770);">25.6</div>
<div class="t" style="left:341.99px;top:507.94px;font-size:20.00px;line-height:20.00px;color:#3a3d42;transform:scaleX(0.8770);">25.6</div>
<div class="t" style="left:341.99px;top:531.56px;font-size:20.00px;line-height:20.00px;color:#3a3d42;transform:scaleX(0.8770);">25.5</div>
<div class="t" style="left:342.16px;top:555.18px;font-size:20.00px;line-height:20.00px;color:#3a3d42;transform:scaleX(0.8770);">25.2</div>
<div class="t" style="left:341.99px;top:578.80px;font-size:20.00px;line-height:20.00px;color:#3a3d42;transform:scaleX(0.8770);">21.3</div>
<div class="t" style="left:341.90px;top:602.42px;font-size:20.00px;line-height:20.00px;color:#3a3d42;transform:scaleX(0.8770);">15.0</div>
<div class="t" style="left:424.45px;top:523.21px;font-size:24.90px;line-height:24.90px;font-weight:bold;color:#231f20;transform:scaleX(1.0100);">9.9</div>
<div class="t" style="left:413.49px;top:600.17px;font-size:19.70px;line-height:19.70px;color:#2e8bc6;transform:scaleX(0.9770);">*(35.0)</div>
<div class="t" style="left:531.20px;top:460.70px;font-size:20.00px;line-height:20.00px;color:#3a3d42;transform:scaleX(0.8770);">25.0</div>
<div class="t" style="left:531.20px;top:484.32px;font-size:20.00px;line-height:20.00px;color:#3a3d42;transform:scaleX(0.8770);">25.0</div>
<div class="t" style="left:531.37px;top:507.94px;font-size:20.00px;line-height:20.00px;color:#3a3d42;transform:scaleX(0.8770);">25.1</div>
<div class="t" style="left:531.20px;top:531.56px;font-size:20.00px;line-height:20.00px;color:#3a3d42;transform:scaleX(0.8770);">25.0</div>
<div class="t" style="left:531.37px;top:555.18px;font-size:20.00px;line-height:20.00px;color:#3a3d42;transform:scaleX(0.8770);">25.1</div>
<div class="t" style="left:531.46px;top:578.80px;font-size:20.00px;line-height:20.00px;color:#3a3d42;transform:scaleX(0.8770);">24.7</div>
<div class="t" style="left:531.29px;top:602.42px;font-size:20.00px;line-height:20.00px;color:#3a3d42;transform:scaleX(0.8770);">10.8</div>
<div class="t" style="left:606.45px;top:523.21px;font-size:24.90px;line-height:24.90px;font-weight:bold;color:#231f20;transform:scaleX(1.0100);">10.3</div>
<div class="t" style="left:602.79px;top:600.17px;font-size:19.70px;line-height:19.70px;color:#2e8bc6;transform:scaleX(0.9770);">*(34.4)</div>
<div class="t" style="left:720.59px;top:460.70px;font-size:20.00px;line-height:20.00px;color:#3a3d42;transform:scaleX(0.8770);">77.5</div>
<div class="t" style="left:720.59px;top:484.32px;font-size:20.00px;line-height:20.00px;color:#3a3d42;transform:scaleX(0.8770);">77.5</div>
<div class="t" style="left:720.59px;top:507.94px;font-size:20.00px;line-height:20.00px;color:#3a3d42;transform:scaleX(0.8770);">77.5</div>
<div class="t" style="left:720.59px;top:531.56px;font-size:20.00px;line-height:20.00px;color:#3a3d42;transform:scaleX(0.8770);">77.5</div>
<div class="t" style="left:720.59px;top:555.18px;font-size:20.00px;line-height:20.00px;color:#3a3d42;transform:scaleX(0.8770);">73.6</div>
<div class="t" style="left:720.59px;top:578.80px;font-size:20.00px;line-height:20.00px;color:#3a3d42;transform:scaleX(0.8770);">50.6</div>
<div class="t" style="left:720.76px;top:602.42px;font-size:20.00px;line-height:20.00px;color:#3a3d42;transform:scaleX(0.8770);">28.2</div>
<div class="t" style="left:795.63px;top:523.21px;font-size:24.90px;line-height:24.90px;font-weight:bold;color:#231f20;transform:scaleX(1.0100);">10.1</div>
<div class="t" style="left:792.09px;top:600.17px;font-size:19.70px;line-height:19.70px;color:#2e8bc6;transform:scaleX(0.9770);">*(27.0)</div>
<div class="t" style="left:899.09px;top:460.70px;font-size:20.00px;line-height:20.00px;color:#3a3d42;transform:scaleX(0.8770);">141</div>
<div class="t" style="left:899.09px;top:484.32px;font-size:20.00px;line-height:20.00px;color:#3a3d42;transform:scaleX(0.8770);">141</div>
<div class="t" style="left:899.09px;top:507.94px;font-size:20.00px;line-height:20.00px;color:#3a3d42;transform:scaleX(0.8770);">139</div>
<div class="t" style="left:899.00px;top:531.56px;font-size:20.00px;line-height:20.00px;color:#3a3d42;transform:scaleX(0.8770);">128</div>
<div class="t" style="left:909.89px;top:555.18px;font-size:20.00px;line-height:20.00px;color:#3a3d42;transform:scaleX(0.8770);">90.5</div>
<div class="t" style="left:909.97px;top:578.80px;font-size:20.00px;line-height:20.00px;color:#3a3d42;transform:scaleX(0.8770);">36.9</div>
<div class="t" style="left:984.93px;top:523.21px;font-size:24.90px;line-height:24.90px;font-weight:bold;color:#231f20;transform:scaleX(1.0100);">15.5</div>
<div class="t" style="left:981.39px;top:600.17px;font-size:19.70px;line-height:19.70px;color:#2e8bc6;transform:scaleX(0.9770);">*(34.4)</div>
<div class="t" style="left:1099.36px;top:460.70px;font-size:20.00px;line-height:20.00px;color:#3a3d42;transform:scaleX(0.8770);">93.2</div>
<div class="t" style="left:1099.36px;top:484.32px;font-size:20.00px;line-height:20.00px;color:#3a3d42;transform:scaleX(0.8770);">93.2</div>
<div class="t" style="left:1099.36px;top:507.94px;font-size:20.00px;line-height:20.00px;color:#3a3d42;transform:scaleX(0.8770);">93.2</div>
<div class="t" style="left:1099.36px;top:531.56px;font-size:20.00px;line-height:20.00px;color:#3a3d42;transform:scaleX(0.8770);">93.2</div>
<div class="t" style="left:1099.27px;top:555.18px;font-size:20.00px;line-height:20.00px;color:#3a3d42;transform:scaleX(0.8770);">91.9</div>
<div class="t" style="left:1099.36px;top:578.80px;font-size:20.00px;line-height:20.00px;color:#3a3d42;transform:scaleX(0.8770);">72.2</div>
<div class="t" style="left:1099.36px;top:602.42px;font-size:20.00px;line-height:20.00px;color:#3a3d42;transform:scaleX(0.8770);">42.7</div>
<div class="t" style="left:1174.79px;top:523.21px;font-size:24.90px;line-height:24.90px;font-weight:bold;color:#231f20;transform:scaleX(1.0100);">30.3</div>
<div class="t" style="left:1170.69px;top:600.17px;font-size:19.70px;line-height:19.70px;color:#2e8bc6;transform:scaleX(0.9770);">*(33.4)</div>
<div class="t" style="left:1280.87px;top:460.70px;font-size:20.00px;line-height:20.00px;color:#3a3d42;transform:scaleX(0.8770);">227</div>
<div class="t" style="left:1280.79px;top:484.32px;font-size:20.00px;line-height:20.00px;color:#3a3d42;transform:scaleX(0.8770);">229</div>
<div class="t" style="left:1280.87px;top:507.94px;font-size:20.00px;line-height:20.00px;color:#3a3d42;transform:scaleX(0.8770);">227</div>
<div class="t" style="left:1280.79px;top:531.56px;font-size:20.00px;line-height:20.00px;color:#3a3d42;transform:scaleX(0.8770);">221</div>
<div class="t" style="left:1280.70px;top:555.18px;font-size:20.00px;line-height:20.00px;color:#3a3d42;transform:scaleX(0.8770);">193</div>
<div class="t" style="left:1280.70px;top:578.80px;font-size:20.00px;line-height:20.00px;color:#3a3d42;transform:scaleX(0.8770);">153</div>
<div class="t" style="left:1291.59px;top:602.42px;font-size:20.00px;line-height:20.00px;color:#3a3d42;transform:scaleX(0.8770);">81.5</div>
<div class="t" style="left:46.30px;top:687.90px;font-size:29.80px;line-height:29.80px;font-weight:bold;color:#231f20;transform:scaleX(1.0390);">50</div>
<div class="t" style="left:155.38px;top:626.04px;font-size:20.00px;line-height:20.00px;color:#3a3d42;transform:scaleX(0.8770);">0</div>
<div class="t" style="left:145.64px;top:649.66px;font-size:20.00px;line-height:20.00px;color:#3a3d42;transform:scaleX(0.8770);">10</div>
<div class="t" style="left:145.64px;top:673.28px;font-size:20.00px;line-height:20.00px;color:#3a3d42;transform:scaleX(0.8770);">20</div>
<div class="t" style="left:145.73px;top:696.90px;font-size:20.00px;line-height:20.00px;color:#3a3d42;transform:scaleX(0.8770);">25</div>
<div class="t" style="left:145.64px;top:720.52px;font-size:20.00px;line-height:20.00px;color:#3a3d42;transform:scaleX(0.8770);">30</div>
<div class="t" style="left:145.73px;top:744.14px;font-size:20.00px;line-height:20.00px;color:#3a3d42;transform:scaleX(0.8770);">35</div>
<div class="t" style="left:145.64px;top:767.76px;font-size:20.00px;line-height:20.00px;color:#3a3d42;transform:scaleX(0.8770);">40</div>
<div class="t" style="left:235.15px;top:688.55px;font-size:24.90px;line-height:24.90px;font-weight:bold;color:#231f20;transform:scaleX(1.0100);">6.6</div>
<div class="t" style="left:224.19px;top:765.51px;font-size:19.70px;line-height:19.70px;color:#2e8bc6;transform:scaleX(0.9770);">*(45.0)</div>
<div class="t" style="left:341.99px;top:626.04px;font-size:20.00px;line-height:20.00px;color:#3a3d42;transform:scaleX(0.8770);">25.6</div>
<div class="t" style="left:341.99px;top:649.66px;font-size:20.00px;line-height:20.00px;color:#3a3d42;transform:scaleX(0.8770);">25.6</div>
<div class="t" style="left:341.81px;top:673.28px;font-size:20.00px;line-height:20.00px;color:#3a3d42;transform:scaleX(0.8770);">25.4</div>
<div class="t" style="left:341.99px;top:696.90px;font-size:20.00px;line-height:20.00px;color:#3a3d42;transform:scaleX(0.8770);">24.5</div>
<div class="t" style="left:341.99px;top:720.52px;font-size:20.00px;line-height:20.00px;color:#3a3d42;transform:scaleX(0.8770);">21.6</div>
<div class="t" style="left:341.99px;top:744.14px;font-size:20.00px;line-height:20.00px;color:#3a3d42;transform:scaleX(0.8770);">15.8</div>
<div class="t" style="left:351.72px;top:767.76px;font-size:20.00px;line-height:20.00px;color:#3a3d42;transform:scaleX(0.8770);">2.8</div>
<div class="t" style="left:417.72px;top:688.55px;font-size:24.90px;line-height:24.90px;font-weight:bold;color:#231f20;transform:scaleX(1.0100);">11.1</div>
<div class="t" style="left:413.49px;top:765.51px;font-size:19.70px;line-height:19.70px;color:#2e8bc6;transform:scaleX(0.9770);">*(42.0)</div>
<div class="t" style="left:531.20px;top:626.04px;font-size:20.00px;line-height:20.00px;color:#3a3d42;transform:scaleX(0.8770);">25.0</div>
<div class="t" style="left:531.20px;top:649.66px;font-size:20.00px;line-height:20.00px;color:#3a3d42;transform:scaleX(0.8770);">25.0</div>
<div class="t" style="left:531.37px;top:673.28px;font-size:20.00px;line-height:20.00px;color:#3a3d42;transform:scaleX(0.8770);">24.9</div>
<div class="t" style="left:531.20px;top:696.90px;font-size:20.00px;line-height:20.00px;color:#3a3d42;transform:scaleX(0.8770);">25.0</div>
<div class="t" style="left:531.37px;top:720.52px;font-size:20.00px;line-height:20.00px;color:#3a3d42;transform:scaleX(0.8770);">17.1</div>
<div class="t" style="left:541.20px;top:744.14px;font-size:20.00px;line-height:20.00px;color:#3a3d42;transform:scaleX(0.8770);">9.2</div>
<div class="t" style="left:541.20px;top:767.76px;font-size:20.00px;line-height:20.00px;color:#3a3d42;transform:scaleX(0.8770);">6.7</div>
<div class="t" style="left:607.14px;top:688.55px;font-size:24.90px;line-height:24.90px;font-weight:bold;color:#231f20;transform:scaleX(1.0100);">11.6</div>
<div class="t" style="left:599.25px;top:765.51px;font-size:19.70px;line-height:19.70px;color:#2e8bc6;transform:scaleX(1.0985);">*(42.3)</div>
<div class="t" style="left:720.59px;top:626.04px;font-size:20.00px;line-height:20.00px;color:#3a3d42;transform:scaleX(0.8770);">74.8</div>
<div class="t" style="left:720.59px;top:649.66px;font-size:20.00px;line-height:20.00px;color:#3a3d42;transform:scaleX(0.8770);">74.8</div>
<div class="t" style="left:720.59px;top:673.28px;font-size:20.00px;line-height:20.00px;color:#3a3d42;transform:scaleX(0.8770);">74.8</div>
<div class="t" style="left:720.59px;top:696.90px;font-size:20.00px;line-height:20.00px;color:#3a3d42;transform:scaleX(0.8770);">68.3</div>
<div class="t" style="left:720.76px;top:720.52px;font-size:20.00px;line-height:20.00px;color:#3a3d42;transform:scaleX(0.8770);">56.2</div>
<div class="t" style="left:720.59px;top:744.14px;font-size:20.00px;line-height:20.00px;color:#3a3d42;transform:scaleX(0.8770);">36.6</div>
<div class="t" style="left:730.32px;top:767.76px;font-size:20.00px;line-height:20.00px;color:#3a3d42;transform:scaleX(0.8770);">9.6</div>
<div class="t" style="left:796.44px;top:688.55px;font-size:24.90px;line-height:24.90px;font-weight:bold;color:#231f20;transform:scaleX(1.0100);">11.3</div>
<div class="t" style="left:792.09px;top:765.51px;font-size:19.70px;line-height:19.70px;color:#2e8bc6;transform:scaleX(0.9770);">*(36.0)</div>
<div class="t" style="left:898.91px;top:626.04px;font-size:20.00px;line-height:20.00px;color:#3a3d42;transform:scaleX(0.8770);">140</div>
<div class="t" style="left:899.09px;top:649.66px;font-size:20.00px;line-height:20.00px;color:#3a3d42;transform:scaleX(0.8770);">141</div>
<div class="t" style="left:899.00px;top:673.28px;font-size:20.00px;line-height:20.00px;color:#3a3d42;transform:scaleX(0.8770);">128</div>
<div class="t" style="left:899.17px;top:696.90px;font-size:20.00px;line-height:20.00px;color:#3a3d42;transform:scaleX(0.8770);">107</div>
<div class="t" style="left:909.80px;top:720.52px;font-size:20.00px;line-height:20.00px;color:#3a3d42;transform:scaleX(0.8770);">59.0</div>
<div class="t" style="left:909.97px;top:744.14px;font-size:20.00px;line-height:20.00px;color:#3a3d42;transform:scaleX(0.8770);">12.9</div>
<div class="t" style="left:985.05px;top:688.55px;font-size:24.90px;line-height:24.90px;font-weight:bold;color:#231f20;transform:scaleX(1.0100);">17.3</div>
<div class="t" style="left:981.39px;top:765.51px;font-size:19.70px;line-height:19.70px;color:#2e8bc6;transform:scaleX(0.9770);">*(43.9)</div>
<div class="t" style="left:1099.01px;top:626.04px;font-size:20.00px;line-height:20.00px;color:#3a3d42;transform:scaleX(0.8770);">92.4</div>
<div class="t" style="left:1099.01px;top:649.66px;font-size:20.00px;line-height:20.00px;color:#3a3d42;transform:scaleX(0.8770);">92.4</div>
<div class="t" style="left:1099.01px;top:673.28px;font-size:20.00px;line-height:20.00px;color:#3a3d42;transform:scaleX(0.8770);">92.4</div>
<div class="t" style="left:1099.01px;top:696.90px;font-size:20.00px;line-height:20.00px;color:#3a3d42;transform:scaleX(0.8770);">92.4</div>
<div class="t" style="left:1099.01px;top:720.52px;font-size:20.00px;line-height:20.00px;color:#3a3d42;transform:scaleX(0.8770);">86.4</div>
<div class="t" style="left:1099.19px;top:744.14px;font-size:20.00px;line-height:20.00px;color:#3a3d42;transform:scaleX(0.8770);">64.3</div>
<div class="t" style="left:1099.10px;top:767.76px;font-size:20.00px;line-height:20.00px;color:#3a3d42;transform:scaleX(0.8770);">35.0</div>
<div class="t" style="left:1174.79px;top:688.55px;font-size:24.90px;line-height:24.90px;font-weight:bold;color:#231f20;transform:scaleX(1.0100);">33.9</div>
<div class="t" style="left:1170.69px;top:765.51px;font-size:19.70px;line-height:19.70px;color:#2e8bc6;transform:scaleX(0.9770);">*(41.9)</div>
<div class="t" style="left:1280.87px;top:626.04px;font-size:20.00px;line-height:20.00px;color:#3a3d42;transform:scaleX(0.8770);">227</div>
<div class="t" style="left:1280.70px;top:649.66px;font-size:20.00px;line-height:20.00px;color:#3a3d42;transform:scaleX(0.8770);">226</div>
<div class="t" style="left:1280.52px;top:673.28px;font-size:20.00px;line-height:20.00px;color:#3a3d42;transform:scaleX(0.8770);">224</div>
<div class="t" style="left:1280.52px;top:696.90px;font-size:20.00px;line-height:20.00px;color:#3a3d42;transform:scaleX(0.8770);">204</div>
<div class="t" style="left:1280.87px;top:720.52px;font-size:20.00px;line-height:20.00px;color:#3a3d42;transform:scaleX(0.8770);">172</div>
<div class="t" style="left:1280.79px;top:744.14px;font-size:20.00px;line-height:20.00px;color:#3a3d42;transform:scaleX(0.8770);">121</div>
<div class="t" style="left:1291.59px;top:767.76px;font-size:20.00px;line-height:20.00px;color:#3a3d42;transform:scaleX(0.8770);">40.5</div>
<svg class="ov" width="1356" height="802" viewBox="0 0 1356 802" style="position:absolute;left:0;top:0;"><ellipse cx="1249.5" cy="85.6" rx="78" ry="46.5" fill="none" stroke="#da1f33" stroke-width="7.2"/><circle cx="62.45" cy="535.3" r="34" fill="none" stroke="#da1f33" stroke-width="7.5"/><circle cx="1198.4" cy="535.15" r="34" fill="none" stroke="#da1f33" stroke-width="7.5"/><clipPath id="c25"><rect x="130" y="560" width="60" height="38.6"/></clipPath><ellipse cx="155.5" cy="587.8" rx="16" ry="15.7" fill="#f4f9fd" clip-path="url(#c25)"/><ellipse cx="155.5" cy="587.8" rx="17.2" ry="16.9" fill="none" stroke="#da1f33" stroke-width="3.9"/><ellipse cx="1296.2" cy="589.85" rx="21.5" ry="21.1" fill="none" stroke="#da1f33" stroke-width="4.6"/><polygon fill="#231f20" points="75.90,498.60 81.14,472.85 83.40,483.21 94.82,465.42 98.18,467.58 86.76,485.37 97.13,483.11"/><polygon fill="#231f20" points="1168.00,509.70 1144.44,498.05 1155.04,498.52 1131.53,472.85 1134.47,470.15 1157.99,495.81 1158.45,485.22"/><polygon fill="#231f20" points="137.40,594.60 122.53,616.26 124.49,605.84 89.63,629.65 87.37,626.35 122.23,602.54 111.81,600.57"/><polygon fill="#231f20" points="1284.90,609.50 1283.63,635.75 1279.91,625.89 1259.37,670.61 1256.63,669.39 1276.07,624.18 1266.27,628.03"/><polygon fill="#231f20" points="1176.00,114.60 1169.83,140.14 1168.19,129.87 1051.89,297.31 1048.11,294.69 1164.41,127.25 1154.22,129.30"/></svg>
<div class="t" style="left:145.73px;top:578.80px;font-size:20.00px;line-height:20.00px;color:#3a3d42;transform:scaleX(0.8770);">25</div>
<div class="bx" style="left:93.2px;top:403.2px;width:59.8px;height:63.1px;background:rgba(244,124,40,0.93);"></div>
<svg width="1356" height="802" style="position:absolute;left:0;top:0;"><path fill="#231f20" d="M129.6,419.4 L129.6,449.7 L120.2,449.7 L120.2,432.8 L112,432.8 L112,426.2 C117,426 120.5,423.8 121.2,419.4 Z"/></svg>
<div class="bx" style="left:1072.1px;top:434.5px;width:62.5px;height:65.1px;background:rgba(28,168,78,0.93);"></div>
<div class="t" style="left:1087.06px;top:444.52px;font-size:43.91px;line-height:43.91px;font-weight:bold;color:#231f20;transform:scaleX(1.2620);-webkit-text-stroke:1.3px #231f20;">2</div>
<div class="bx" style="left:27.6px;top:603.5px;width:62.0px;height:64.5px;background:rgba(255,230,0,0.97);"></div>
<div class="t" style="left:43.08px;top:613.28px;font-size:44.78px;line-height:44.78px;font-weight:bold;color:#231f20;transform:scaleX(1.1819);-webkit-text-stroke:1.3px #231f20;">3</div>
<div class="bx" style="left:1195.7px;top:632.3px;width:61.7px;height:64.6px;background:rgba(30,158,218,0.93);"></div>
<div class="t" style="left:1210.25px;top:642.57px;font-size:43.62px;line-height:43.62px;font-weight:bold;color:#231f20;transform:scaleX(1.1440);-webkit-text-stroke:1.3px #231f20;">4</div>
<div class="pop" style="left:715px;top:120.3px;width:363px;height:272.5px;"></div>
<div class="t" style="left:751.88px;top:158.94px;font-size:27.00px;line-height:27.00px;font-weight:bold;color:#231f20;transform:scaleX(1.0348);">Model 1583</div>
<div class="t" style="left:911.50px;top:158.94px;font-size:27.00px;line-height:27.00px;color:#302d2e;transform:scaleX(0.9920);">will work.</div>
<div class="t" style="left:753.17px;top:193.84px;font-size:27.00px;line-height:27.00px;color:#302d2e;transform:scaleX(0.9839);">This model has enough</div>
<div class="t" style="left:752.90px;top:228.64px;font-size:27.00px;line-height:27.00px;color:#302d2e;transform:scaleX(0.9919);">suction to provide a</div>
<div class="t" style="left:751.97px;top:263.64px;font-size:27.00px;line-height:27.00px;color:#302d2e;transform:scaleX(0.9849);">maximum of</div>
<div class="t" style="left:906.34px;top:263.64px;font-size:27.00px;line-height:27.00px;font-weight:bold;color:#231f20;transform:scaleX(1.0224);">153 GPH</div>
<div class="t" style="left:751.84px;top:298.54px;font-size:27.00px;line-height:27.00px;color:#302d2e;transform:scaleX(0.8627);">@</div>
<div class="t" style="left:781.53px;top:298.54px;font-size:27.00px;line-height:27.00px;font-weight:bold;color:#231f20;transform:scaleX(1.0307);">25 PSI</div>
<div class="t" style="left:874.00px;top:298.54px;font-size:27.00px;line-height:27.00px;color:#302d2e;transform:scaleX(0.9845);">with a motive</div>
<div class="t" style="left:752.12px;top:332.04px;font-size:27.00px;line-height:27.00px;color:#302d2e;transform:scaleX(0.9724);">(water) flow of</div>
<div class="t" style="left:924.60px;top:332.04px;font-size:27.00px;line-height:27.00px;font-weight:bold;color:#231f20;transform:scaleX(1.0305);">30.3 GPM</div>
</body></html>
